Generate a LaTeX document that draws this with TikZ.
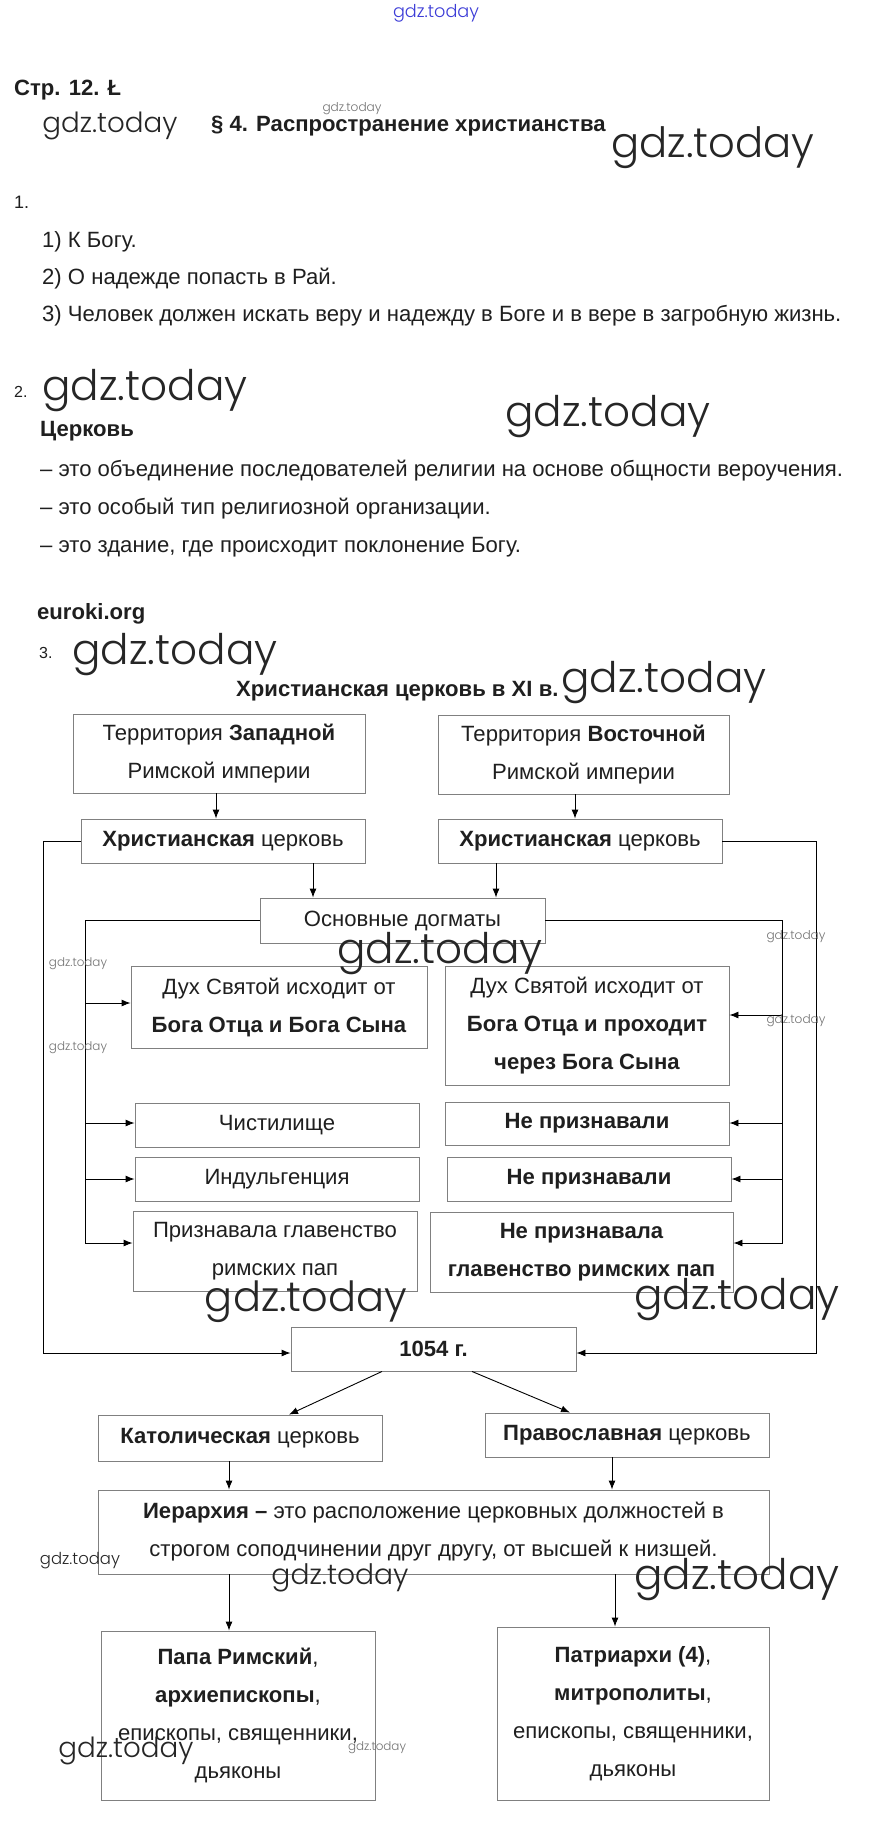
\documentclass[tikz,border=0pt]{standalone}
\usepackage{fontspec}
\setmainfont{Liberation Sans}
\IfFontExistsTF{Poppins Light}{\newfontfamily\wmfont{Poppins Light}}{\newfontfamily\wmfont{Poppins}}
\usetikzlibrary{arrows.meta}
\newcommand\wmark[1]{\resizebox{#1pt}{!}{\wmfont gdz.today}}
\newcommand\bodyfs{\fontsize{22.1}{38}\selectfont}
\begin{document}
\begin{tikzpicture}[x=1pt,y=-1pt,
  box/.style={draw=black!50, line width=0.9pt, inner sep=0pt, align=center, font=\bodyfs, text=black!88},
  arr/.style={draw=black, line width=0.9pt, -{Latex[length=9pt,width=7pt]}},
  ln/.style={draw=black, line width=0.9pt},
  wmL/.style={inner sep=0pt, text=black!85},
  wmS/.style={inner sep=0pt, text=black!55},
  txt/.style={inner sep=0pt, anchor=base west, text=black!88, font=\bodyfs},
  txtb/.style={txt, font=\bodyfs\bfseries}]
\fill[white] (0,0) rectangle (872,1821);
\useasboundingbox (0,0) rectangle (872,1821);

% ---------- header texts ----------
\node[inner sep=0pt, text={rgb,255:red,60;green,60;blue,215}] (w1) at (436,13) {\wmark{86}};
\node[txtb] (t0) at (14,95) {Стр. 12. Ł};
\node[wmS] (w2) at (352,109) {\wmark{59}};
\node[wmL] (w3) at (110,126) {\wmark{135}};
\node[txtb] (t1) at (211,131) {§ 4. Распространение христианства};
\node[wmL] (w4) at (713,148) {\wmark{203}};

\node[txt, font=\fontsize{18}{20}\selectfont] (n1) at (14,208) {1.};
\node[txt] (q1) at (42,247) {1) К Богу.};
\node[txt] (q2) at (42,284) {2) О надежде попасть в Рай.};
\node[txt] (q3) at (42,321) {3) Человек должен искать веру и надежду в Боге и в вере в загробную жизнь.};

\node[txt, font=\fontsize{16}{18}\selectfont] (n2) at (14,397) {2.};
\node[wmL] (w5) at (145,391) {\wmark{205}};
\node[wmL] (w6) at (608,417) {\wmark{205}};
\node[txtb] (c0) at (40,436) {Церковь};
\node[txt] (c1) at (40,476) {– это объединение последователей религии на основе общности вероучения.};
\node[txt] (c2) at (40,514) {– это особый тип религиозной организации.};
\node[txt] (c3) at (40,552) {– это здание, где происходит поклонение Богу.};

\node[txtb] (eu) at (37,619) {euroki.org};
\node[txt, font=\fontsize{16}{18}\selectfont] (n3) at (39,658) {3.};
\node[wmL] (w7) at (175,655) {\wmark{205}};
\node[txtb] (tt) at (236,696) {Христианская церковь в XI в.};
\node[wmL] (w8) at (664,683) {\wmark{205}};

% ---------- boxes ----------
\node[box, minimum width=292pt, minimum height=79pt] (A) at (219,753.5) {Территория \textbf{Западной}\\Римской империи};
\node[box, minimum width=291pt, minimum height=79pt] (B) at (583.5,754.5) {Территория \textbf{Восточной}\\Римской империи};
\node[box, minimum width=284pt, minimum height=44pt] (C1) at (223,841) {\textbf{Христианская} церковь};
\node[box, minimum width=284pt, minimum height=44pt] (C2) at (580,841) {\textbf{Христианская} церковь};
\node[box, minimum width=285pt, minimum height=45pt] (D) at (402.5,920.5) {Основные догматы};
\node[box, minimum width=296pt, minimum height=82pt] (E1) at (279,1007) {Дух Святой исходит от\\\textbf{Бога Отца и Бога Сына}};
\node[box, minimum width=284pt, minimum height=119pt] (E2) at (587,1025.5) {Дух Святой исходит от\\\textbf{Бога Отца и проходит}\\\textbf{через Бога Сына}};
\node[box, minimum width=284pt, minimum height=44pt] (F1) at (277,1125) {Чистилище};
\node[box, minimum width=284pt, minimum height=43pt] (F2) at (587,1123.5) {\textbf{Не признавали}};
\node[box, minimum width=284pt, minimum height=44pt] (G1) at (277,1179) {Индульгенция};
\node[box, minimum width=284pt, minimum height=44pt] (G2) at (589,1179) {\textbf{Не признавали}};
\node[box, minimum width=284pt, minimum height=80pt] (H1) at (275,1251) {Признавала главенство\\римских пап};
\node[box, minimum width=303pt, minimum height=80pt] (H2) at (581.5,1252) {\textbf{Не признавала}\\\textbf{главенство римских пап}};
\node[box, minimum width=285pt, minimum height=44pt] (I) at (433.5,1349) {\textbf{1054 г.}};
\node[box, minimum width=284pt, minimum height=46pt] (J1) at (240,1438) {\textbf{Католическая} церковь};
\node[box, minimum width=284pt, minimum height=44pt] (J2) at (627,1435) {\textbf{Православная} церковь};
\node[box, minimum width=671pt, minimum height=84pt] (K) at (433.5,1532) {\textbf{Иерархия –} это расположение церковных должностей в\\строгом соподчинении друг другу, от высшей к низшей.};
\node[box, minimum width=274pt, minimum height=169pt] (L1) at (238,1715.5) {\textbf{Папа Римский},\\\textbf{архиепископы},\\епископы, священники,\\дьяконы};
\node[box, minimum width=272pt, minimum height=173pt] (L2) at (633,1713.5) {\textbf{Патриархи (4)},\\\textbf{митрополиты},\\епископы, священники,\\дьяконы};

% ---------- connectors ----------
\draw[arr] (A.south -| 216,0) -- (C1.north -| 216,0);
\draw[arr] (B.south -| 575,0) -- (C2.north -| 575,0);
\draw[arr] (C1.south -| 313,0) -- (D.north -| 313,0);
\draw[arr] (C2.south -| 496,0) -- (D.north -| 496,0);

\coordinate (lo) at (43,1353);
\coordinate (ro) at (816,1353);
\draw[arr] (C1.west) -| (lo) -- (I.west |- lo);
\draw[arr] (C2.east) -| (ro) -- (I.east |- ro);

\coordinate (il) at (85,1243);
\coordinate (ir) at (782,1243);
\draw[arr] (D.west) -| (il) -- (H1.west |- il);
\draw[arr] (D.east) -| (ir) -- (H2.east |- ir);
\draw[arr] (il |- 0,1003) -- (E1.west |- 0,1003);
\draw[arr] (il |- 0,1123) -- (F1.west |- 0,1123);
\draw[arr] (il |- 0,1179) -- (G1.west |- 0,1179);
\draw[arr] (ir |- 0,1015) -- (E2.east |- 0,1015);
\draw[arr] (ir |- 0,1123) -- (F2.east |- 0,1123);
\draw[arr] (ir |- 0,1179) -- (G2.east |- 0,1179);

\draw[arr] ([xshift=-51.5pt]I.south) -- ([xshift=49pt]J1.north);
\draw[arr] ([xshift=38.5pt]I.south) -- ([xshift=-57pt]J2.north);
\draw[arr] (J1.south -| 229,0) -- (K.north -| 229,0);
\draw[arr] (J2.south -| 612,0) -- (K.north -| 612,0);
\draw[arr] (K.south -| 229,0) -- (L1.north -| 229,0);
\draw[arr] (K.south -| 615,0) -- (L2.north -| 615,0);

% ---------- watermarks in diagram ----------
\node[wmS] (w9) at (796,937) {\wmark{59}};
\node[wmS] (w10) at (78,964) {\wmark{58}};
\node[wmL] (w11) at (440,954) {\wmark{205}};
\node[wmS] (w12) at (78,1048) {\wmark{58}};
\node[wmS] (w13) at (796,1021) {\wmark{59}};
\node[wmL] (w14) at (306,1302) {\wmark{202}};
\node[wmL] (w15) at (737,1300) {\wmark{205}};
\node[wmL] (w16) at (80,1561) {\wmark{80}};
\node[wmL] (w17) at (340,1578) {\wmark{137}};
\node[wmL] (w18) at (737,1580) {\wmark{205}};
\node[wmL] (w19) at (126,1751) {\wmark{135}};
\node[wmS] (w20) at (377,1748) {\wmark{58}};
\end{tikzpicture}
\end{document}
